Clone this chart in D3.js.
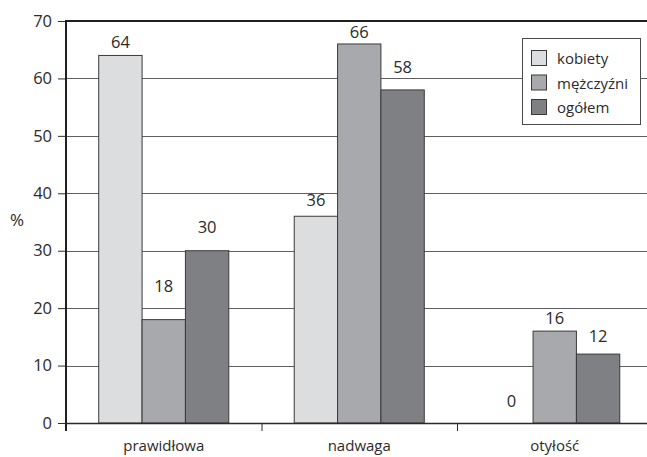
<!DOCTYPE html>
<html><head><meta charset="utf-8">
<script src="https://cdn.jsdelivr.net/npm/d3@7"></script>
<style>body{margin:0;background:#fff}svg{display:block}text{font-family:"Open Sans",sans-serif;fill:#2b2b2b}</style>
</head><body>
<svg id="c" width="647" height="457"></svg>
<script>
const categories = ["prawidłowa", "nadwaga", "otyłość"];
const seriesNames = ["kobiety", "mężczyźni", "ogółem"];
const kobiety = [64, 36, 0];
const mezczyzni = [18, 66, 16];
const ogolem = [30, 58, 12];
const yTicks = [0, 10, 20, 30, 40, 50, 60, 70];
const colors = ["#dcdddf", "#a8a9ac", "#7f8083"];
// label lift above bar top (px), per category x series, as placed in the original
const labelLift = [[7.5, 27.6, 18], [10, 6.3, 16.7], [16, 6.7, 12.3]];

const values = [kobiety, mezczyzni, ogolem];
const svg = d3.select("#c");
const L = 66, R = 652.5, T = 21, B = 423;
const NUM = 16.5;

const x = d3.scaleBand().domain(categories).range([L, R]).padding(0);
const xs = d3.scaleBand().domain(seriesNames).range([0, x.bandwidth()]).paddingInner(0).paddingOuter(0.755);
const y = d3.scaleLinear().domain([0, 70]).range([B, T]);

// gridlines
svg.append("g").selectAll("line").data(yTicks.filter(d => d > 0 && d < 70)).join("line")
  .attr("x1", L).attr("x2", 647).attr("y1", d => Math.round(y(d)) + 0.5).attr("y2", d => Math.round(y(d)) + 0.5)
  .attr("stroke", "#5e5f61").attr("stroke-width", 1);

// bars
const rows = [];
categories.forEach((c, i) => seriesNames.forEach((s, j) => rows.push({c, s, i, j, v: values[j][i]})));
svg.append("g").selectAll("rect").data(rows.filter(d => d.v > 0)).join("rect")
  .attr("x", d => x(d.c) + xs(d.s))
  .attr("y", d => y(d.v))
  .attr("width", xs.bandwidth())
  .attr("height", d => B - y(d.v))
  .attr("fill", d => colors[d.j])
  .attr("stroke", "#3a3a3a").attr("stroke-width", 1);

// value labels
svg.append("g").selectAll("text").data(rows).join("text")
  .attr("x", d => x(d.c) + xs(d.s) + xs.bandwidth() / 2)
  .attr("y", d => y(d.v) - labelLift[d.i][d.j])
  .attr("text-anchor", "middle").attr("font-size", NUM)
  .text(d => d.v);

// y axis
const yAxis = svg.append("g").attr("transform", `translate(${L},0)`)
  .call(d3.axisLeft(y).tickValues(yTicks).tickSize(8).tickPadding(6));
yAxis.select(".domain").remove();
yAxis.selectAll(".tick line").attr("stroke", "#2b2b2b");
yAxis.selectAll(".tick text").attr("font-size", NUM).attr("font-family", "Open Sans").attr("fill", "#2b2b2b");

// x axis
const xAxis = svg.append("g").attr("transform", `translate(0,${B})`)
  .call(d3.axisBottom(x).tickSize(0).tickPadding(0));
xAxis.select(".domain").remove();
xAxis.selectAll(".tick text").attr("font-size", 15).attr("font-family", "Open Sans").attr("fill", "#2b2b2b").attr("dy", 0).attr("y", 28);
// category boundary ticks
svg.append("g").selectAll("line").data(categories).join("line")
  .attr("x1", d => x(d) + 0.5).attr("x2", d => x(d) + 0.5).attr("y1", B).attr("y2", B + 8)
  .attr("stroke", "#2b2b2b");

// axis lines
svg.append("line").attr("x1", L).attr("x2", 647).attr("y1", B + 0.5).attr("y2", B + 0.5).attr("stroke", "#2b2b2b").attr("stroke-width", 1.5);
svg.append("line").attr("x1", L).attr("x2", 647).attr("y1", T).attr("y2", T).attr("stroke", "#231f20").attr("stroke-width", 2.2);
svg.append("line").attr("x1", L).attr("x2", L).attr("y1", T - 1).attr("y2", B + 8).attr("stroke", "#231f20").attr("stroke-width", 2);

// axis title
svg.append("text").attr("x", 17).attr("y", 226).attr("text-anchor", "middle").attr("font-size", 17).text("%");

// legend
const lg = svg.append("g");
lg.append("rect").attr("x", 522.5).attr("y", 38.5).attr("width", 118).attr("height", 86)
  .attr("fill", "#fff").attr("stroke", "#4a4a4a").attr("stroke-width", 1);
const li = lg.selectAll("g").data(seriesNames).join("g")
  .attr("transform", (d, i) => `translate(0,${i * 24.5})`);
li.append("rect").attr("x", 531.5).attr("y", 50.5).attr("width", 15).attr("height", 15)
  .attr("fill", (d, i) => colors[i]).attr("stroke", "#3a3a3a");
li.append("text").attr("x", 557).attr("y", 64).attr("font-size", 15).text(d => d);
</script>
</body></html>
